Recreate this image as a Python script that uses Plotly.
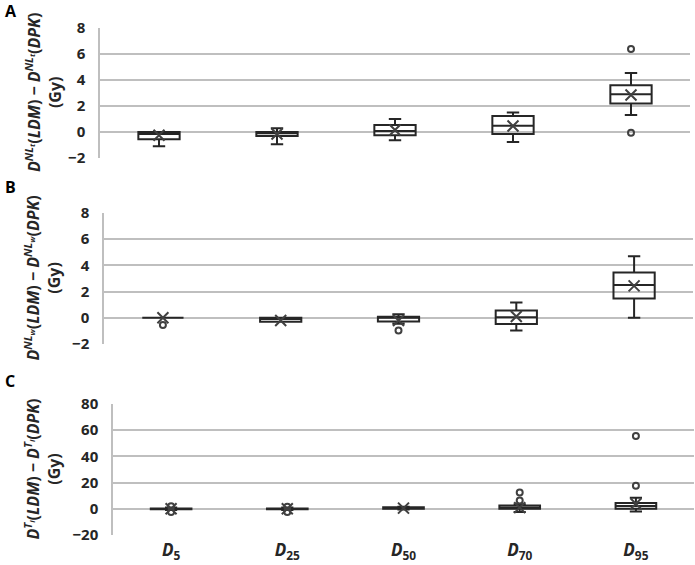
import plotly.graph_objects as go
from plotly.subplots import make_subplots

categories = ["D5", "D25", "D50", "D70", "D95"]
tick_text = ["<b><i>D</i><sub>5</sub></b>", "<b><i>D</i><sub>25</sub></b>", "<b><i>D</i><sub>50</sub></b>",
             "<b><i>D</i><sub>70</sub></b>", "<b><i>D</i><sub>95</sub></b>"]

# Panel A: D^NLt(LDM) - D^NLt(DPK)
a_low = [-1.1, -0.95, -0.64, -0.77, 1.3]
a_q1 = [-0.55, -0.3, -0.25, -0.15, 2.2]
a_med = [-0.15, -0.1, 0.08, 0.48, 2.9]
a_q3 = [0.0, 0.0, 0.54, 1.23, 3.6]
a_high = [0.0, 0.28, 1.0, 1.5, 4.54]
a_mean = [-0.25, -0.15, 0.15, 0.46, 2.85]
a_out_x = ["D95", "D95"]
a_out_y = [6.38, -0.05]

# Panel B: D^NLw(LDM) - D^NLw(DPK)
b_low = [0.0, -0.3, -0.46, -0.97, 0.0]
b_q1 = [0.0, -0.3, -0.28, -0.48, 1.47]
b_med = [0.0, -0.1, 0.0, 0.05, 2.5]
b_q3 = [0.0, 0.0, 0.08, 0.56, 3.46]
b_high = [0.0, 0.0, 0.28, 1.17, 4.7]
b_mean = [0.0, -0.2, -0.2, 0.1, 2.44]
b_out_x = ["D5", "D50"]
b_out_y = [-0.55, -0.97]

# Panel C: D^Ti(LDM) - D^Ti(DPK)
c_low = [-1.0, -1.0, -0.5, -2.5, -2.0]
c_q1 = [-0.3, -0.3, 0.0, 0.0, 0.0]
c_med = [0.0, 0.0, 0.5, 0.8, 2.2]
c_q3 = [0.3, 0.3, 1.2, 2.5, 4.4]
c_high = [1.0, 1.0, 1.5, 3.5, 8.4]
c_mean = [0.0, 0.0, 0.5, 0.9, 3.8]
c_out_x = ["D5", "D5", "D25", "D25", "D70", "D70", "D95", "D95"]
c_out_y = [-2.5, 2.0, -2.5, 1.5, 6.3, 12.5, 17.6, 55.5]

panels = [
    (a_low, a_q1, a_med, a_q3, a_high, a_mean, a_out_x, a_out_y),
    (b_low, b_q1, b_med, b_q3, b_high, b_mean, b_out_x, b_out_y),
    (c_low, c_q1, c_med, c_q3, c_high, c_mean, c_out_x, c_out_y),
]

fig = make_subplots(rows=3, cols=1)

line_col = "#262626"
for i, (lo, q1, med, q3, hi, mean, ox, oy) in enumerate(panels, start=1):
    fig.add_trace(go.Box(
        x=categories, lowerfence=lo, q1=q1, median=med, q3=q3, upperfence=hi,
        fillcolor="rgba(0,0,0,0)", line=dict(color=line_col, width=2),
        whiskerwidth=0.3, boxpoints=False, hoverinfo="skip", showlegend=False
    ), row=i, col=1)
    # mean shown as an X like the spreadsheet original
    fig.add_trace(go.Scatter(
        x=categories, y=mean, mode="markers",
        marker=dict(symbol="x-thin", size=11, line=dict(color="#404040", width=2)),
        showlegend=False, hoverinfo="skip"
    ), row=i, col=1)
    fig.add_trace(go.Scatter(
        x=ox, y=oy, mode="markers",
        marker=dict(symbol="circle-open", size=6, color="#404040", line=dict(width=2)),
        showlegend=False, hoverinfo="skip"
    ), row=i, col=1)

W, H = 695, 565
x_doms = [(100, 690), (104, 693), (113, 694)]
y_doms = [(28, 158), (213, 344), (404, 535)]
y_ranges = [(-2, 8), (-2, 8), (-20, 80)]
y_dticks = [2, 2, 20]

tick_font = dict(family="Open Sans", size=15, color="#262626")
for i in range(3):
    xd, yd = x_doms[i], y_doms[i]
    xk = "xaxis" if i == 0 else f"xaxis{i + 1}"
    yk = "yaxis" if i == 0 else f"yaxis{i + 1}"
    fig.update_layout({
        xk: dict(domain=[xd[0] / W, xd[1] / W], showgrid=False, zeroline=False,
                 showline=False, ticks="", range=[-0.5, 4.5],
                 showticklabels=(i == 2), tickmode="array", tickvals=categories,
                 ticktext=tick_text, ticklabelstandoff=3,
                 tickfont=dict(family="Open Sans", size=17, color="#262626")),
        yk: dict(domain=[1 - yd[1] / H, 1 - yd[0] / H], range=list(y_ranges[i]),
                 dtick=y_dticks[i], showgrid=True, gridcolor="#bfbfbf", gridwidth=1.5,
                 zeroline=False, showline=True, linecolor="#bfbfbf", linewidth=1.5,
                 ticks="", tickfont=tick_font, ticklabelstandoff=10,
                 tickprefix="<b>", ticksuffix="</b>"),
    })

y_titles = [
    "<b><i>D</i><sup><i>NL<sub>t</sub></i></sup>(<i>LDM</i>) − <i>D</i><sup><i>NL<sub>t</sub></i></sup>(<i>DPK</i>)<br>(Gy)</b>",
    "<b><i>D</i><sup><i>NL<sub>w</sub></i></sup>(<i>LDM</i>) − <i>D</i><sup><i>NL<sub>w</sub></i></sup>(<i>DPK</i>)<br>(Gy)</b>",
    "<b><i>D</i><sup><i>T<sub>i</sub></i></sup>(<i>LDM</i>) − <i>D</i><sup><i>T<sub>i</sub></i></sup>(<i>DPK</i>)<br>(Gy)</b>",
]
for i, t in enumerate(y_titles):
    yd = y_doms[i]
    fig.add_annotation(text=t, textangle=-90, xref="paper", yref="paper",
                       x=43 / W, y=1 - (yd[0] + yd[1]) / 2 / H, showarrow=False,
                       xanchor="center", yanchor="middle",
                       font=dict(family="Open Sans", size=16, color="#262626"))

for letter, ypx in [("A", 11), ("B", 187), ("C", 381)]:
    fig.add_annotation(text=f"<b>{letter}</b>", xref="paper", yref="paper",
                       x=3 / W, y=1 - ypx / H, xanchor="left", yanchor="middle",
                       showarrow=False, font=dict(family="Open Sans", size=16, color="black"))

fig.update_layout(width=W, height=H,
                  margin=dict(l=0, r=0, t=0, b=0, autoexpand=False),
                  plot_bgcolor="white", paper_bgcolor="white", boxgap=0.5)

fig.write_html("out.html", config={"displayModeBar": False},
               post_script="document.body.style.margin = '0';")
